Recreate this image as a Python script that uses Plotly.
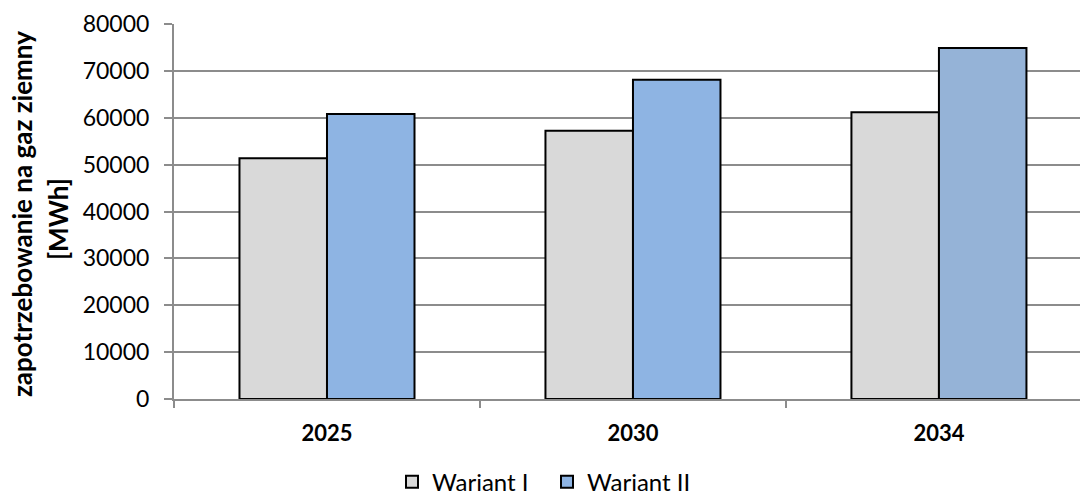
import plotly.graph_objects as go

years = ["2025", "2030", "2034"]
wariant_1 = [51350, 57250, 61150]
wariant_2 = [60800, 68100, 74900]
y_ticks = [0, 10000, 20000, 30000, 40000, 50000, 60000, 70000, 80000]
y_tick_labels = [str(v) for v in y_ticks]
y_title_lines = ["zapotrzebowanie na gaz ziemny", "[MWh]"]

FONT = "Lato, Carlito, Calibri, sans-serif"

fig = go.Figure()
fig.add_trace(go.Bar(
    x=years, y=wariant_1, name="Wariant I",
    marker=dict(color="#D9D9D9", line=dict(color="black", width=2)),
))
fig.add_trace(go.Bar(
    x=years, y=wariant_2, name="Wariant II",
    marker=dict(color=["#8EB4E3", "#8EB4E3", "#95B3D7"], line=dict(color="black", width=2)),
))

fig.update_layout(
    width=1080, height=497,
    margin=dict(l=174, r=0, t=24, b=98, autoexpand=False),
    plot_bgcolor="white", paper_bgcolor="white",
    barmode="group", bargap=0.428, bargroupgap=0,
    font=dict(family=FONT, size=23, color="black"),
    showlegend=True,
    legend=dict(orientation="h", x=0.4117, xanchor="center", y=-0.222, yanchor="middle",
                font=dict(size=24), traceorder="normal", itemwidth=30,
                entrywidth=110, entrywidthmode="pixels"),
    xaxis=dict(
        type="category", range=[-0.5, 2.461], automargin=False,
        showline=True, linecolor="#8C8C8C", linewidth=2,
        ticks="outside", tickson="boundaries", ticklen=7, tickcolor="#8C8C8C", tickwidth=2,
        tickfont=dict(size=22, family=FONT, weight="bold"),
        showgrid=False, ticklabelstandoff=14,
    ),
    yaxis=dict(
        range=[0, 80000], tickvals=y_ticks, ticktext=y_tick_labels, automargin=False,
        showline=True, linecolor="#8C8C8C", linewidth=2,
        ticks="outside", ticklen=8, tickcolor="#8C8C8C", tickwidth=2,
        showgrid=True, gridcolor="#8C8C8C", gridwidth=2,
        zeroline=False, tickfont=dict(size=23), ticklabelstandoff=10,
    ),
    annotations=[
        dict(text="<b>" + y_title_lines[0] + "</b>",
             xref="paper", yref="paper", x=-0.1678, y=0.493,
             xanchor="center", yanchor="middle", textangle=-90,
             showarrow=False, font=dict(size=26, family=FONT)),
        dict(text="<b>" + y_title_lines[1] + "</b>",
             xref="paper", yref="paper", x=-0.128, y=0.48,
             xanchor="center", yanchor="middle", textangle=-90,
             showarrow=False, font=dict(size=26, family=FONT)),
    ],
)

fig.write_html("out.html")
